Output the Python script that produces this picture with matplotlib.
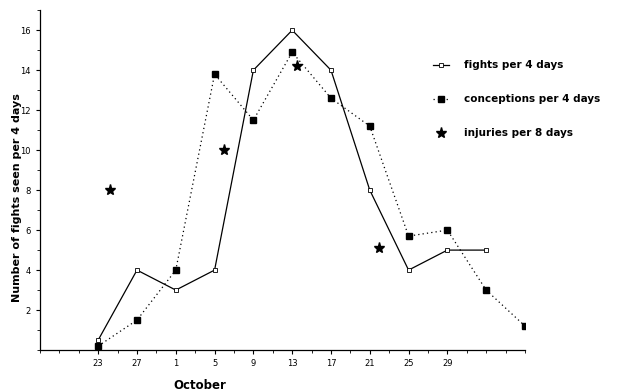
import matplotlib.pyplot as plt
from matplotlib.ticker import MultipleLocator

# days counted from 23 September
fight_days = [0, 4, 8, 12, 16, 20, 24, 28, 32, 36, 40]
fights = [0.5, 4, 3, 4, 14, 16, 14, 8, 4, 5, 5]

conception_days = [0, 4, 8, 12, 16, 20, 24, 28, 32, 36, 40, 44]
conceptions = [0.2, 1.5, 4, 13.8, 11.5, 14.9, 12.6, 11.2, 5.7, 6, 3, 1.2]

injury_days = [1.2, 13, 20.5, 29]
injuries = [8, 10, 14.2, 5.1]

tick_days = [0, 4, 8, 12, 16, 20, 24, 28, 32, 36]
tick_labels = ["23", "27", "1", "5", "9", "13", "17", "21", "25", "29"]
y_ticks = [2, 4, 6, 8, 10, 12, 14, 16]

fig = plt.figure(figsize=(6.19, 3.92), dpi=100)
ax = fig.add_axes([0.0646, 0.107, 0.7835, 0.867])

ax.plot(fight_days, fights, color="black", linewidth=0.9,
        marker="s", markersize=3.5, markerfacecolor="white",
        markeredgecolor="black", markeredgewidth=0.6,
        label="fights per 4 days")
ax.plot(conception_days, conceptions, color="black", linewidth=0.9,
        linestyle=(0, (1, 2.5)), marker="s", markersize=4,
        markerfacecolor="black", label="conceptions per 4 days")
ax.plot(injury_days, injuries, linestyle="none", marker="*",
        markersize=8, color="black", label="injuries per 8 days")

ax.set_xlim(-6, 44)
ax.set_ylim(0, 17)
ax.set_xticks(tick_days)
ax.set_xticklabels(tick_labels)
ax.xaxis.set_minor_locator(MultipleLocator(2))
ax.set_yticks(y_ticks)
ax.yaxis.set_minor_locator(MultipleLocator(1))
ax.tick_params(axis="both", which="major", labelsize=6, length=3, width=0.8)
ax.tick_params(axis="both", which="minor", length=2, width=0.6)

for side in ["top", "right"]:
    ax.spines[side].set_visible(False)
for side in ["left", "bottom"]:
    ax.spines[side].set_linewidth(0.9)

ax.set_ylabel("Number of fights seen per 4 days", fontsize=8,
              fontweight="bold")
ax.yaxis.set_label_coords(-0.038, 0.45)
ax.set_xlabel("October", fontsize=8.5, fontweight="bold")
ax.xaxis.set_label_coords(0.33, -0.085)

leg = ax.legend(loc="upper left", bbox_to_anchor=(0.79, 0.88), frameon=False,
                handlelength=1.6, handletextpad=1.4, labelspacing=2.3,
                prop={"weight": "bold", "size": 7.5})

fig.savefig("out.png", dpi=100)
